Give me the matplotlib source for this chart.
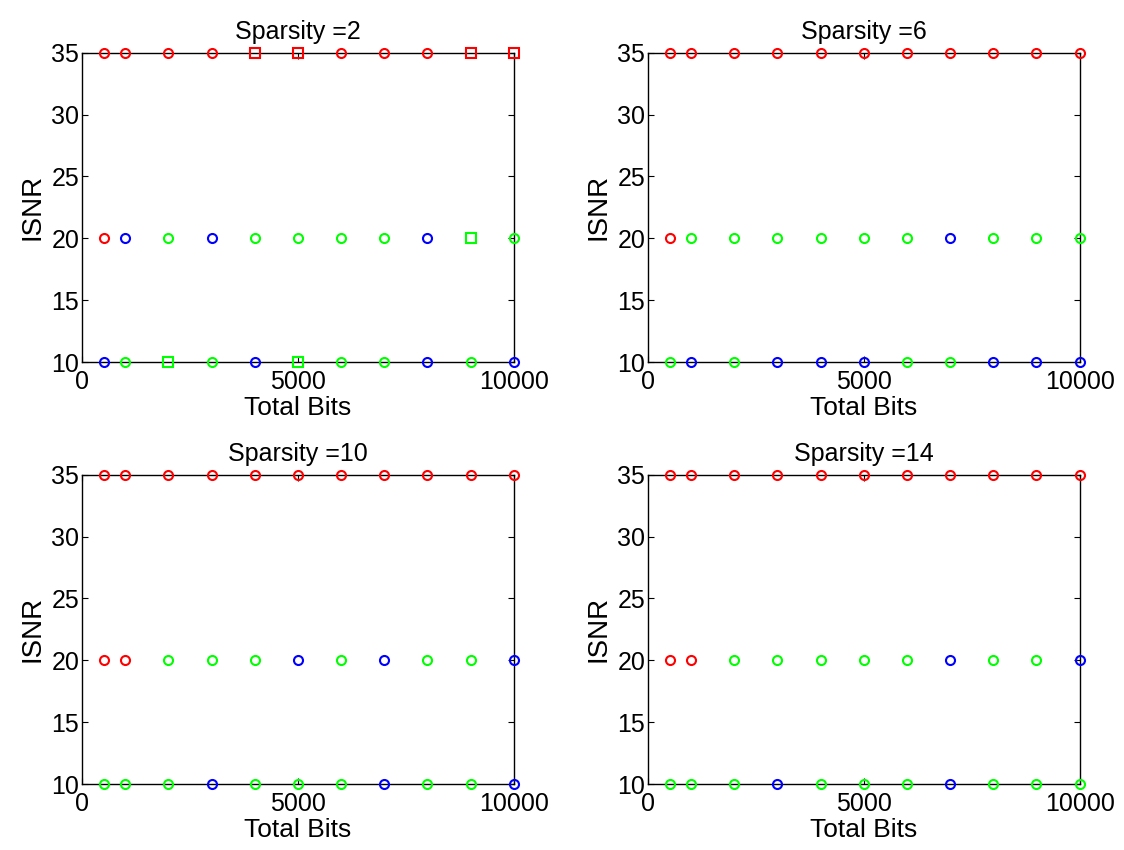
import numpy as np
import matplotlib
matplotlib.use("Agg")
import matplotlib.pyplot as plt

plt.rcParams['font.family'] = ['Liberation Sans', 'DejaVu Sans']

# data
total_bits = [500, 1000, 2000, 3000, 4000, 5000, 6000, 7000, 8000, 9000, 10000]
isnr_levels = [35, 20, 10]
sparsity = [2, 6, 10, 14]

# colour codes per panel, one string per ISNR level (r/g/b), one char per bit count
colors_s2 = ["rrrrrrrrrrr", "rbgbggggbgg", "bgggbgggbgb"]
colors_s6 = ["rrrrrrrrrrr", "rggggggbggg", "gbgbbbggbbb"]
colors_s10 = ["rrrrrrrrrrr", "rrgggbgbggb", "gggbgggbggb"]
colors_s14 = ["rrrrrrrrrrr", "rrgggggbggb", "gggbgggbggg"]

# marker codes (o = circle, s = square)
markers_s2 = ["oooossoooss", "oooooooooso", "oosoosooooo"]
markers_s6 = ["ooooooooooo"] * 3
markers_s10 = ["ooooooooooo"] * 3
markers_s14 = ["ooooooooooo"] * 3

all_colors = [colors_s2, colors_s6, colors_s10, colors_s14]
all_markers = [markers_s2, markers_s6, markers_s10, markers_s14]

color_map = {"r": "#ff0000", "g": "#00ff00", "b": "#0000ff"}

fig = plt.figure(figsize=(11.24, 8.5), dpi=100)

# axes positions (left, bottom, width, height)
positions = [
    [0.073, 0.574, 0.384, 0.364],
    [0.5765, 0.574, 0.384, 0.364],
    [0.073, 0.0776, 0.384, 0.364],
    [0.5765, 0.0776, 0.384, 0.364],
]

for k in range(4):
    ax = fig.add_axes(positions[k])
    for r, level in enumerate(isnr_levels):
        for i, x in enumerate(total_bits):
            c = color_map[all_colors[k][r][i]]
            m = all_markers[k][r][i]
            ms = 7.5 if m == "s" else 6.5
            ax.plot(x, level, marker=m, markerfacecolor="none", markeredgecolor=c,
                    markersize=ms, markeredgewidth=1.5, linestyle="none", clip_on=False, zorder=3)
    ax.set_xlim(0, 10000)
    ax.set_ylim(10, 35)
    ax.set_xticks([0, 5000, 10000])
    ax.set_yticks([10, 15, 20, 25, 30, 35])
    ax.tick_params(direction="in", length=4, width=0.8, labelsize=18, top=True, right=True)
    ax.tick_params(axis="x", pad=6)
    ax.tick_params(axis="y", pad=2)
    for s in ax.spines.values():
        s.set_linewidth(1.0)
    ax.set_xlabel("Total Bits", fontsize=19, labelpad=1)
    ax.set_ylabel("ISNR", fontsize=20, labelpad=4)
    ax.set_title("Sparsity =%d" % sparsity[k], fontsize=18, pad=10)

fig.savefig("out.png", dpi=100)
